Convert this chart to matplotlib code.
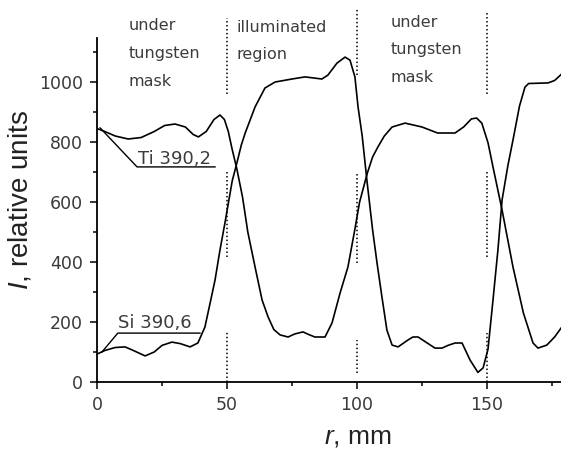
import matplotlib

matplotlib.use("Agg")
import matplotlib.pyplot as plt

# Ti 390,2 line intensity vs position
ti_r = [0, 3, 7, 12, 17, 22, 26, 30, 34, 37, 39, 42, 45, 47.3, 49, 50.5, 52, 53.8,
        56, 58, 60.8, 63.5, 65.8, 68, 70.4, 73.5, 76, 79.2, 81.5, 83.8, 87.7, 90.4,
        93.5, 96.5, 99.2, 101, 104, 106, 108, 110.5, 113.5, 118.5, 125, 131, 137.7,
        141, 144, 146, 148, 150.4, 152.3, 155.8, 160, 164, 167.7, 169.6, 173, 176, 178.5]
ti_i = [845, 835, 820, 810, 815, 835, 855, 860, 850, 825, 817, 835, 875, 890, 875, 835, 775, 710,
        615, 500, 383, 273, 217, 175, 157, 150, 160, 167, 158, 150, 150, 197,
        297, 383, 510, 600, 697, 750, 783, 820, 850, 863, 850, 830, 830,
        850, 877, 880, 863, 797, 717, 573, 383, 230, 130, 113, 123, 150, 180]

# Si 390,6 line intensity vs position
si_r = [0, 3, 7, 10.8, 14, 18.5, 22, 25, 28.8, 32, 35.8, 38.8, 41.5, 43.5, 45.4, 47.3, 49.2,
        50.4, 52, 53.8, 55.5, 57, 60.8, 64.6, 68.5, 75, 80, 86.5, 88.8, 92.3, 95.4, 97.3,
        99.2, 100.4, 102, 103.8, 106, 107.7, 109.6, 111.5, 113.5, 115.8, 119.6, 121.5, 123.5,
        127, 130, 132.7, 135, 137.7, 140.4, 143.5, 146.5, 148.5, 150.4, 152.3, 154.2, 155.8,
        158, 160, 162.5, 164.6, 166, 173.5, 176, 178.5]
si_i = [93, 105, 115, 117, 105, 87, 100, 122, 133, 128, 117, 130, 183, 263, 340, 440, 530,
        590, 670, 730, 790, 830, 917, 980, 1000, 1010, 1017, 1010, 1023, 1063, 1083, 1073,
        1017, 917, 820, 673, 507, 397, 283, 173, 123, 117, 140, 150, 150,
        130, 113, 113, 122, 130, 130, 73, 32, 47, 110, 273, 440, 607,
        720, 807, 920, 983, 995, 997, 1005, 1025]

# region boundaries (dotted, broken)
bound_r = [50, 100, 150]
bound_segs = [
    [(960, 1213), (417, 707), (0, 167)],
    [(1023, 1247), (397, 700), (30, 140)],
    [(960, 1230), (417, 707), (0, 163)],
]

region_labels = ["under\ntungsten\nmask", "illuminated\nregion", "under\ntungsten\nmask"]
region_r = [12.3, 53.5, 113]
region_top = [1212, 1208, 1225]

plt.rcParams["font.family"] = ["DejaVu Sans"]
plt.rcParams["mathtext.fontset"] = "custom"
plt.rcParams["mathtext.it"] = "Liberation Sans:italic"
plt.rcParams["mathtext.rm"] = "Liberation Sans"

fig = plt.figure(figsize=(5.61, 4.5), dpi=100)
ax = fig.add_axes([97 / 561, 68 / 450, 464 / 561, 344 / 450])

ax.plot(ti_r, ti_i, color="black", lw=1.2)
ax.plot(si_r, si_i, color="black", lw=1.2)

for r, segs in zip(bound_r, bound_segs):
    for lo, hi in segs:
        ax.plot([r, r], [lo, hi], color="black", lw=1.1, ls=(0, (1, 1.6)), clip_on=False)

for txt, r, top in zip(region_labels, region_r, region_top):
    ax.text(r, top, txt, fontsize=11.5, color="#3c3c3c", ha="left", va="top",
            linespacing=2.05, clip_on=False)

# curve labels with leader lines
ax.plot([1.2, 15.4, 45.4], [847, 717, 717], color="black", lw=1.0)
ax.text(15.8, 728, "Ti 390,2", fontsize=13, color="#3c3c3c", ha="left", va="baseline")
ax.plot([1.9, 8, 39.6], [100, 163, 163], color="black", lw=1.0)
ax.text(8.1, 180, "Si 390,6", fontsize=13, color="#3c3c3c", ha="left", va="baseline")

ax.set_xlim(0, 178.46)
ax.set_ylim(0, 1146.7)
ax.set_xticks([0, 50, 100, 150])
ax.set_xticks([25, 75, 125, 175], minor=True)
ax.set_yticks([0, 200, 400, 600, 800, 1000])
ax.set_yticks([100, 300, 500, 700, 900, 1100], minor=True)

for s in ["top", "right"]:
    ax.spines[s].set_visible(False)
for s in ["left", "bottom"]:
    ax.spines[s].set_linewidth(1.3)

ax.tick_params(which="major", direction="out", length=5, width=1.1,
               labelsize=12.5, labelcolor="#3a3a3a", pad=5)
ax.tick_params(which="minor", direction="out", length=2.8, width=1.1)

ax.text(-0.165, 0.529, "$I$, relative units", transform=ax.transAxes, rotation=90,
        ha="center", va="center", fontsize=20, family="Liberation Sans", color="#222222")
ax.text(0.5625, -0.16, "$r$, mm", transform=ax.transAxes, ha="center", va="center",
        fontsize=19, family="Liberation Sans", color="#222222")

fig.savefig("out.png", dpi=100)
